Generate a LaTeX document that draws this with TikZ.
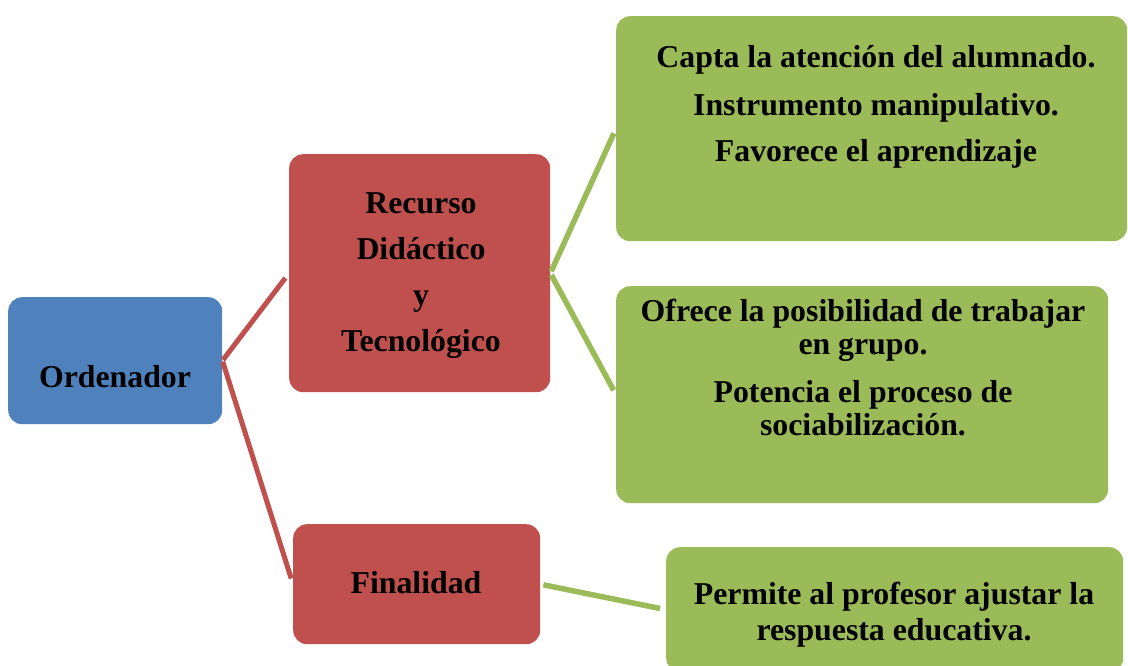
\documentclass[tikz,border=0pt]{standalone}
\usepackage{fontspec}
\setmainfont{Liberation Serif}
\usepackage{xcolor}
\definecolor{ordBlue}{HTML}{4F81BD}
\definecolor{recRed}{HTML}{C0504D}
\definecolor{ideaGreen}{HTML}{9BBB59}

\begin{document}
\begin{tikzpicture}[x=1pt,y=-1pt,
    box/.style={rounded corners=14pt, inner sep=0pt, anchor=north west},
    txt/.style={align=center, inner sep=0pt, anchor=base,
        font=\fontsize{31.8}{#1}\selectfont\bfseries},
    txt/.default=34]
                \useasboundingbox (0,0) rectangle (1128,666);
                \clip (0,0) rectangle (1128,666);
                \def\redWidth{5pt}
                \def\greenWidth{5.5pt}
                % cajas
                \node[box, fill=ordBlue, minimum width=214pt, minimum height=127pt]
                    (ord) at (8,297) {};
                \node[box, fill=recRed, minimum width=261pt, minimum height=238pt]
                    (rec) at (289,154) {};
                \node[box, fill=recRed, minimum width=247pt, minimum height=120pt]
                    (fin) at (293,524) {};
                \node[box, fill=ideaGreen, minimum width=511pt, minimum height=225pt]
                    (capta) at (616,16) {};
                \node[box, fill=ideaGreen, minimum width=492pt, minimum height=217pt]
                    (grupo) at (616,286) {};
                \node[box, fill=ideaGreen, minimum width=457pt, minimum height=125pt]
                    (ajuste) at (666,547) {};
                % textos (anchor=base is the last line)
                \node[txt] (ordText) at (115,387) {Ordenador};
                \node[txt=46] (recText) at (421,351)
                    {Recurso\\Didáctico\\y\\Tecnológico};
                \node[txt] (finText) at (416,593) {Finalidad};
                \node[txt=47] (captaText) at (876,162)
                    {Capta la atención del alumnado.\\Instrumento manipulativo.\\Favorece el aprendizaje};
                \node[txt=33] (grupoText) at (863,435)
                    {Ofrece la posibilidad de trabajar\\en grupo.\\[15pt]Potencia el proceso de\\sociabilización.};
                \node[txt=36] (ajusteText) at (894,640)
                    {Permite al profesor ajustar la\\respuesta educativa.};
                % conectores
                \draw[recRed, line width=\redWidth, shorten <=1pt, shorten >=6pt]
                    (ord.east) -- (rec.west);
                \draw[recRed, line width=\redWidth, shorten <=1pt, shorten >=6pt]
                    (ord.east) -- (fin.west);
                \draw[ideaGreen, line width=\greenWidth, shorten <=2pt, shorten >=5pt]
                    (rec.east) -- (capta.west);
                \draw[ideaGreen, line width=\greenWidth, shorten <=2pt, shorten >=5pt]
                    (rec.east) -- (grupo.west);
                \draw[ideaGreen, line width=\greenWidth, shorten <=3pt, shorten >=6pt]
                    (fin.east) -- (ajuste.west);
            \end{tikzpicture}
\end{document}
